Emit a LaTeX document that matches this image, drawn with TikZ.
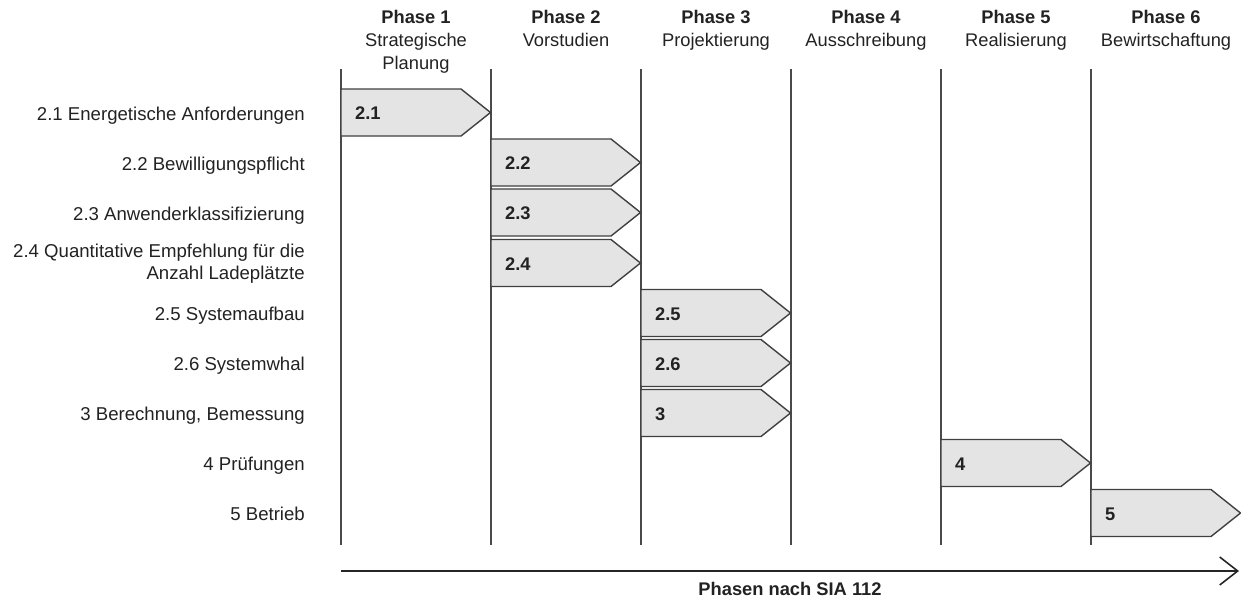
\documentclass[tikz,border=0pt]{standalone}
\usepackage{fontspec}
\setmainfont{Liberation Sans}
\usetikzlibrary{arrows.meta}
\definecolor{txt}{HTML}{222222}
\definecolor{lin}{HTML}{4A4A4A}
\definecolor{fillg}{HTML}{E4E4E4}
\definecolor{edge}{HTML}{404040}
\tikzset{
  rowlabel/.style={anchor=base east, text=txt, inner sep=0pt, align=right, font=\fontsize{18.6}{22}\selectfont},
  phasehead/.style={anchor=north, text=txt, inner sep=0pt, align=center, font=\fontsize{18.3}{23}\selectfont},
  boxlabel/.style={anchor=base west, text=txt, inner sep=0pt, font=\fontsize{18.3}{22}\selectfont\bfseries},
  phaseline/.style={draw=lin, line width=1.3pt},
  arrowbox/.style={draw=edge, fill=fillg, line width=1.4pt, line join=miter},
}
\begin{document}
\begin{tikzpicture}[x=1pt,y=-1pt]
\useasboundingbox (0,0) rectangle (1241,602);
% phase headers
\foreach \i/\x/\t in {1/416/{Strategische\\Planung},2/566/{Vorstudien},3/716/{Projektierung},4/866/{Ausschreibung},5/1016/{Realisierung},6/1166/{Bewirtschaftung}}{
  \node[phasehead] (ph\i) at (\x,10.5) {\textbf{Phase \i}\\\t};
}
% vertical lines
\foreach \x in {341,491,641,791,941,1091}{
  \draw[phaseline] (\x,69) -- (\x,545);
}
% arrow boxes: name / left x / center y
\foreach \n/\l/\xa/\yc in {a21/2.1/341/112.5, a22/2.2/491/162.5, a23/2.3/491/212.5, a24/2.4/491/263, a25/2.5/641/313, a26/2.6/641/363, a3/3/641/413, a4/4/941/463, a5/5/1091/513}{
  \path[arrowbox] (\xa,\yc-23.5) -- (\xa+120,\yc-23.5) -- (\xa+149.5,\yc) -- (\xa+120,\yc+23.5) -- (\xa,\yc+23.5) -- cycle;
  \node[boxlabel] (\n) at (\xa+14,\yc+7) {\l};
}
% row labels
\node[rowlabel] (l21) at (305,120) {2.1 Energetische Anforderungen};
\node[rowlabel] (l22) at (305,170) {2.2 Bewilligungspflicht};
\node[rowlabel] (l23) at (305,220) {2.3 Anwenderklassifizierung};
\node[rowlabel, anchor=east] (l24) at (305,264) {2.4 Quantitative Empfehlung für die\\Anzahl Ladeplätzte};
\node[rowlabel] (l25) at (305,320.5) {2.5 Systemaufbau};
\node[rowlabel] (l26) at (305,370.5) {2.6 Systemwhal};
\node[rowlabel] (l3) at (305,420.5) {3 Berechnung, Bemessung};
\node[rowlabel] (l4) at (305,470.5) {4 Prüfungen};
\node[rowlabel] (l5) at (305,520.5) {5 Betrieb};
% axis arrow
\coordinate (axs) at (341,571);
\coordinate (axe) at (1239,571);
\draw[draw=black!85, line width=2pt, -{Straight Barb[length=18pt,width=28pt,line width=1.6pt]}] (axs) -- (axe);
\node[anchor=base, text=txt, inner sep=0pt, font=\fontsize{18.3}{22}\selectfont\bfseries] (axl) at (790,595) {Phasen nach SIA 112};
\end{tikzpicture}
\end{document}
